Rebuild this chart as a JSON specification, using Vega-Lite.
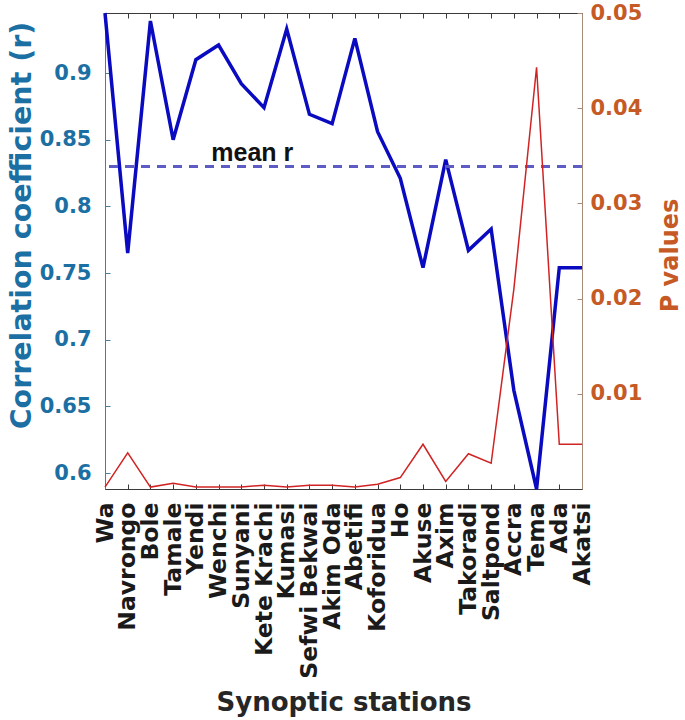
{
  "$schema": "https://vega.github.io/schema/vega-lite/v6.json",
  "autosize": {"type": "none"},
  "padding": {"left": 105, "top": 13, "right": 103, "bottom": 231},
  "width": 477,
  "height": 476,
  "background": "white",
  "config": {
    "view": {"stroke": "#3a3a3a", "strokeWidth": 1},
    "axis": {
      "labelFont": "DejaVu Sans",
      "labelFontWeight": "bold",
      "titleFont": "DejaVu Sans",
      "titleFontWeight": "bold",
      "grid": false
    }
  },
  "data": {
    "values": [
      {"station": "Wa", "r": 0.945, "p": 0.0002},
      {"station": "Navrongo", "r": 0.765, "p": 0.0038},
      {"station": "Bole", "r": 0.939, "p": 0.0002},
      {"station": "Tamale", "r": 0.85, "p": 0.0006},
      {"station": "Yendi", "r": 0.91, "p": 0.0002},
      {"station": "Wenchi", "r": 0.921, "p": 0.0002},
      {"station": "Sunyani", "r": 0.892, "p": 0.0002},
      {"station": "Kete Krachi", "r": 0.874, "p": 0.0004},
      {"station": "Kumasi", "r": 0.933, "p": 0.0002},
      {"station": "Sefwi Bekwai", "r": 0.869, "p": 0.0004},
      {"station": "Akim Oda", "r": 0.862, "p": 0.0004},
      {"station": "Abetifi", "r": 0.926, "p": 0.0002},
      {"station": "Koforidua", "r": 0.856, "p": 0.0005},
      {"station": "Ho", "r": 0.821, "p": 0.0012},
      {"station": "Akuse", "r": 0.754, "p": 0.0047},
      {"station": "Axim", "r": 0.835, "p": 0.0008},
      {"station": "Takoradi", "r": 0.767, "p": 0.0037},
      {"station": "Saltpond", "r": 0.783, "p": 0.0027},
      {"station": "Accra", "r": 0.662, "p": 0.021},
      {"station": "Tema", "r": 0.588, "p": 0.0443},
      {"station": "Ada", "r": 0.754, "p": 0.0047},
      {"station": "Akatsi", "r": 0.754, "p": 0.0047}
    ]
  },
  "layer": [
    {
      "layer": [
        {
          "mark": {"type": "line", "color": "#0a0ac0", "strokeWidth": 3.5, "strokeJoin": "miter"},
          "encoding": {
            "x": {
              "field": "station", "type": "nominal", "sort": null,
              "scale": {"type": "point", "padding": 0},
              "axis": {
                "orient": "bottom", "title": "Synoptic stations",
                "labelAngle": 270, "labelAlign": "right", "labelBaseline": "middle",
                "labelFontSize": 23.5, "labelColor": "#1a1a1a", "labelPadding": 18, "labelOverlap": false,
                "tickSize": -5, "tickColor": "#3a3a3a", "domainColor": "#3a3a3a",
                "titleFontSize": 26, "titleColor": "#262626", "titleY": 221, "titleBaseline": "alphabetic"
              }
            },
            "y": {
              "field": "r", "type": "quantitative",
              "scale": {"domain": [0.588, 0.945], "nice": false, "zero": false},
              "axis": {
                "orient": "left", "title": "Correlation coefficient (r)",
                "values": [0.6, 0.65, 0.7, 0.75, 0.8, 0.85, 0.9], "format": "~g",
                "labelFontSize": 21, "labelColor": "#1c6fa3", "labelPadding": 19,
                "tickSize": -5, "tickColor": "#4a7d9c", "domainColor": "#4a7d9c",
                "titleFontSize": 28.5, "titleColor": "#1c6fa3",
                "titleX": -84, "titleY": 212, "titleAngle": 270, "titleBaseline": "middle", "titleAlign": "center"
              }
            }
          }
        },
        {
          "mark": {"type": "rule", "color": "#5c5cc4", "strokeWidth": 2, "strokeDash": [9, 7]},
          "encoding": {"y": {"datum": 0.83}}
        },
        {
          "data": {"values": [{"station": "Sunyani", "r": 0.83, "label": "mean r"}]},
          "mark": {"type": "text", "font": "Liberation Sans", "fontWeight": "bold", "fontSize": 25, "color": "#111111", "align": "center", "baseline": "alphabetic", "dx": 11, "dy": -5},
          "encoding": {
            "x": {
              "field": "station", "type": "nominal", "sort": null,
              "axis": {
                "orient": "bottom", "title": "Synoptic stations",
                "labelAngle": 270, "labelAlign": "right", "labelBaseline": "middle",
                "labelFontSize": 23.5, "labelColor": "#1a1a1a", "labelPadding": 18, "labelOverlap": false,
                "tickSize": -5, "tickColor": "#3a3a3a", "domainColor": "#3a3a3a",
                "titleFontSize": 26, "titleColor": "#262626", "titleY": 221, "titleBaseline": "alphabetic"
              }
            },
            "y": {"field": "r", "type": "quantitative"},
            "text": {"field": "label"}
          }
        }
      ]
    },
    {
      "mark": {"type": "line", "color": "#d02424", "strokeWidth": 1.5},
      "encoding": {
        "x": {
          "field": "station", "type": "nominal", "sort": null,
          "axis": {"orient": "top", "title": null, "labels": false, "tickSize": -5, "tickColor": "#3a3a3a", "domainColor": "#3a3a3a"}
        },
        "y": {
          "field": "p", "type": "quantitative",
          "scale": {"domain": [0, 0.05], "nice": false, "zero": false},
          "axis": {
            "orient": "right", "title": "P values",
            "values": [0.01, 0.02, 0.03, 0.04, 0.05], "format": "~g",
            "labelFontSize": 21, "labelColor": "#c65a26", "labelPadding": 13,
            "tickSize": -5, "tickColor": "#a88a78", "domainColor": "#a88a78",
            "titleFontSize": 24, "titleColor": "#c65a26",
            "titleX": 88, "titleY": 242, "titleAngle": 270, "titleBaseline": "middle", "titleAlign": "center"
          }
        }
      }
    }
  ],
  "resolve": {"scale": {"y": "independent"}, "axis": {"x": "independent", "y": "independent"}}
}
